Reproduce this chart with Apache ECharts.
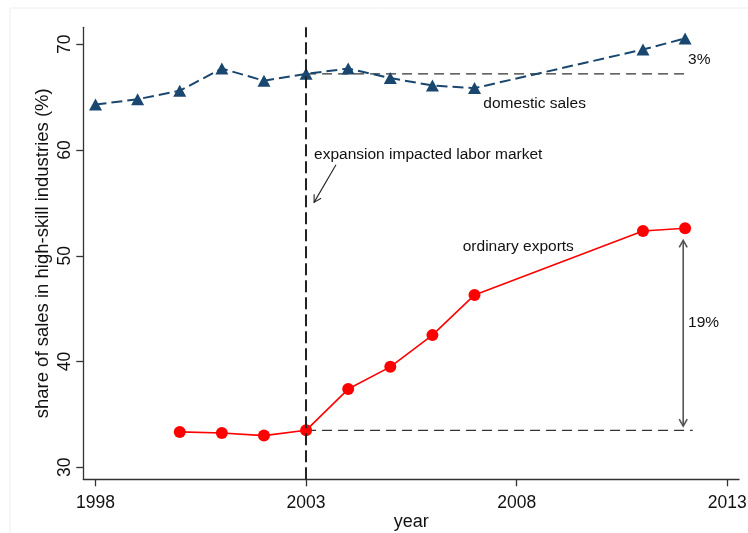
<!DOCTYPE html>
<html>
<head>
<meta charset="utf-8">
<script src="https://cdn.jsdelivr.net/npm/echarts@6/dist/echarts.min.js"></script>
<style>
  html, body { margin: 0; padding: 0; background: #fff; }
  #chart { width: 748px; height: 533px; }
</style>
</head>
<body>
<div id="chart"></div>
<script>
// Share of sales in high-skill industries (%), by year
const domesticYears = [1998, 1999, 2000, 2001, 2002, 2003, 2004, 2005, 2006, 2007, 2011, 2012];
const domesticSales = [64.3, 64.8, 65.6, 67.7, 66.55, 67.2, 67.7, 66.8, 66.1, 65.85, 69.5, 70.55];
const exportYears = [2000, 2001, 2002, 2003, 2004, 2005, 2006, 2007, 2011, 2012];
const ordinaryExports = [33.35, 33.25, 33.0, 33.5, 37.4, 39.5, 42.5, 46.3, 52.35, 52.6];
const xTickValues = [1998, 2003, 2008, 2013];
const yTickValues = [30, 40, 50, 60, 70];
const eventYear = 2003;
const domesticGapText = '3%';
const exportGapText = '19%';

const FONT = '"Liberation Sans", Arial, sans-serif';
const NAVY = '#1a476f';
const RED = '#ff0000';

const domesticBase = domesticSales[domesticYears.indexOf(eventYear)];
const exportBase = ordinaryExports[exportYears.indexOf(eventYear)];

// dashed baselines drawn from the 2003 level: [x1, y1, x2, y2]
const baselines = [
  [eventYear, domesticBase, 2012.04, domesticBase],
  [eventYear, exportBase, 2012.18, exportBase]
];

// arrows: [x1, y1, x2, y2, heads] (heads: 1 = at end, 2 = both ends)
const arrows = [
  [2003.71, 58.6, 2003.19, 55.05, 1],
  [2011.955, 51.45, 2011.955, 33.9, 2]
];

// text annotations anchored at their left-middle point
const notes = [
  { text: 'domestic sales', at: [2007.21, 64.36] },
  { text: 'ordinary exports', at: [2006.72, 50.87] },
  { text: 'expansion impacted labor market', at: [2003.19, 59.53] },
  { text: domesticGapText, at: [2012.07, 68.52] },
  { text: exportGapText, at: [2012.07, 43.63] }
];

const chart = echarts.init(document.getElementById('chart'), null, { renderer: 'canvas' });

function renderBaseline(params, api) {
  const a = api.coord([api.value(0), api.value(1)]);
  const b = api.coord([api.value(2), api.value(3)]);
  return {
    type: 'line',
    shape: { x1: a[0], y1: a[1], x2: b[0], y2: b[1] },
    style: { stroke: '#333', lineWidth: 1.3, lineDash: [10, 6] }
  };
}

function headPoints(tip, tail) {
  const dx = tip[0] - tail[0], dy = tip[1] - tail[1];
  const len = Math.sqrt(dx * dx + dy * dy) || 1;
  const ux = dx / len, uy = dy / len;
  const nx = -uy, ny = ux;
  const L = 7, W = 4;
  return [
    [tip[0] - ux * L + nx * W, tip[1] - uy * L + ny * W],
    [tip[0], tip[1]],
    [tip[0] - ux * L - nx * W, tip[1] - uy * L - ny * W]
  ];
}

function renderArrow(params, api) {
  const a = api.coord([api.value(0), api.value(1)]);
  const b = api.coord([api.value(2), api.value(3)]);
  const both = api.value(4) === 2;
  const color = both ? '#555' : '#222';
  const width = both ? 1.6 : 1.1;
  const children = [
    { type: 'line', shape: { x1: a[0], y1: a[1], x2: b[0], y2: b[1] },
      style: { stroke: color, lineWidth: width } },
    { type: 'polyline', shape: { points: headPoints(b, a) },
      style: { stroke: color, lineWidth: width, fill: null } }
  ];
  if (both) {
    children.push({ type: 'polyline', shape: { points: headPoints(a, b) },
      style: { stroke: color, lineWidth: width, fill: null } });
  }
  return { type: 'group', children };
}

function renderNote(params, api) {
  const n = notes[params.dataIndex];
  const p = api.coord(n.at);
  return {
    type: 'text',
    x: p[0], y: p[1],
    style: {
      text: n.text, fill: '#111',
      font: '15.5px ' + FONT,
      align: 'left', verticalAlign: 'middle'
    }
  };
}

const option = {
  animation: false,
  backgroundColor: '#ffffff',
  textStyle: { fontFamily: FONT },
  graphic: [{
    type: 'rect', silent: true, z: -10,
    shape: { x: 10, y: 8, width: 760, height: 560 },
    style: { fill: null, stroke: '#eeeeee', lineWidth: 1 }
  }],
  grid: {
    left: 83.3, right: 9, top: 27.3, bottom: 53.7,
    containLabel: false, outerBoundsMode: 'none'
  },
  xAxis: {
    type: 'value',
    min: 1997.71, max: 2013.28,
    name: 'year', nameLocation: 'middle', nameGap: 34, nameMoveOverlap: false,
    nameTextStyle: { fontSize: 18, color: '#111', fontFamily: FONT },
    axisLine: { show: true, onZero: false, lineStyle: { color: '#333', width: 1.3 } },
    axisTick: { show: true, length: 7, customValues: xTickValues, lineStyle: { color: '#333', width: 1.3 } },
    axisLabel: {
      customValues: xTickValues, fontSize: 17.5, color: '#111', margin: 15, fontFamily: FONT,
      formatter: v => String(Math.round(v))
    },
    splitLine: { show: false }
  },
  yAxis: {
    type: 'value',
    min: 28.87, max: 71.6,
    name: 'share of sales in high-skill industries (%)',
    nameLocation: 'middle', nameGap: 31, nameMoveOverlap: false,
    nameTextStyle: { fontSize: 18.5, color: '#111', fontFamily: FONT },
    axisLine: { show: true, onZero: false, lineStyle: { color: '#333', width: 1.3 } },
    axisTick: { show: true, length: 7, customValues: yTickValues, lineStyle: { color: '#333', width: 1.3 } },
    axisLabel: {
      customValues: yTickValues, fontSize: 17.5, color: '#111', margin: 9, rotate: 90, fontFamily: FONT,
      formatter: v => String(Math.round(v))
    },
    splitLine: { show: false }
  },
  series: [
    {
      name: 'ordinary exports',
      type: 'line',
      data: exportYears.map((y, i) => [y, ordinaryExports[i]]),
      symbol: 'circle', symbolSize: 12,
      itemStyle: { color: RED },
      lineStyle: { color: RED, width: 1.6 },
      z: 4,
      markLine: {
        silent: true, symbol: ['none', 'none'],
        label: { show: false },
        lineStyle: { color: '#222', width: 2, type: [12, 5] },
        data: [{ xAxis: eventYear }]
      }
    },
    {
      name: 'domestic sales',
      type: 'line',
      data: domesticYears.map((y, i) => [y, domesticSales[i]]),
      symbol: 'triangle', symbolSize: [13, 12],
      itemStyle: { color: NAVY },
      lineStyle: { color: NAVY, width: 2, type: [11, 5] },
      z: 4
    },
    {
      type: 'custom', silent: true, z: 2,
      data: baselines,
      renderItem: renderBaseline
    },
    {
      type: 'custom', silent: true, z: 3,
      data: arrows,
      renderItem: renderArrow
    },
    {
      type: 'custom', silent: true, z: 5,
      data: notes.map(n => n.at),
      renderItem: renderNote
    }
  ]
};

chart.setOption(option);
</script>
</body>
</html>
